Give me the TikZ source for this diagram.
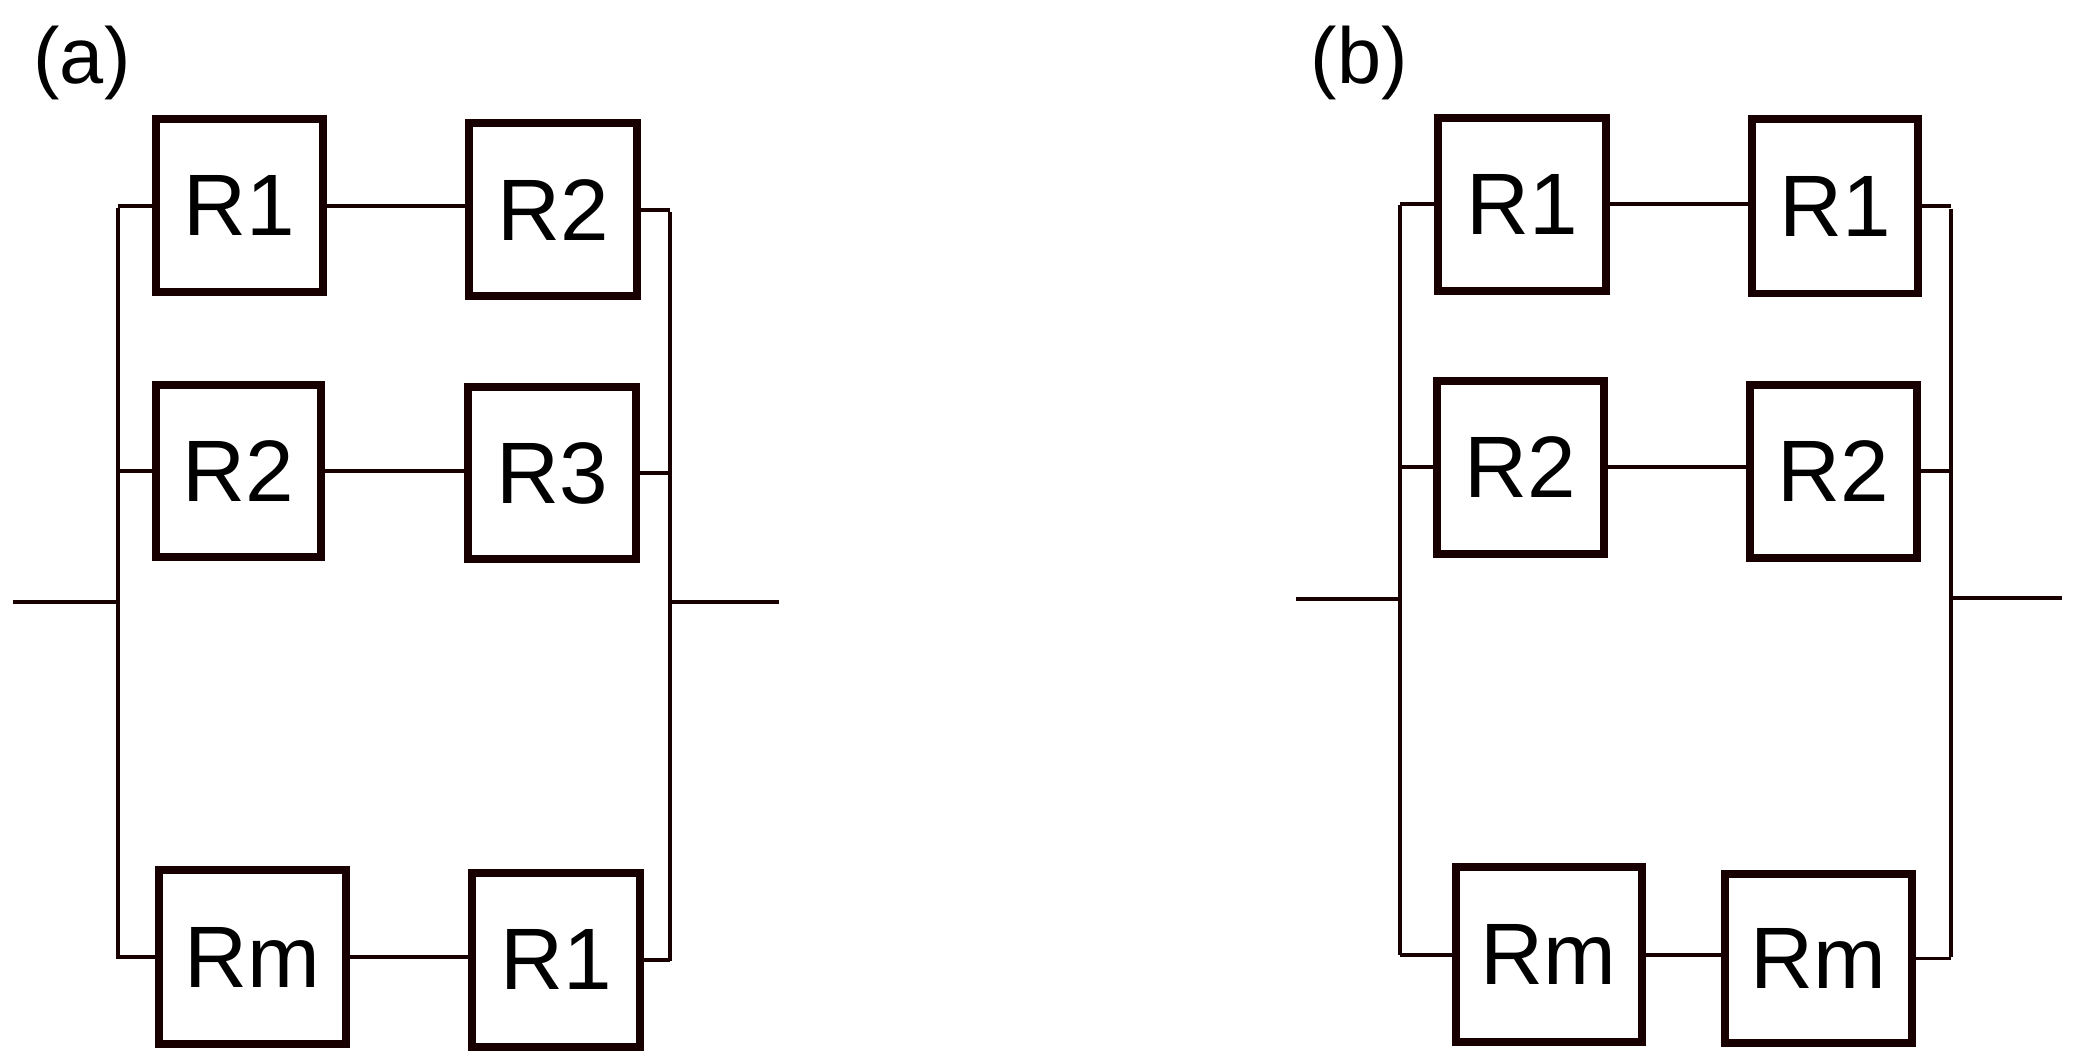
\documentclass[tikz,border=0pt]{standalone}
\usepackage{fontspec}
\setmainfont{Liberation Sans}
\begin{document}
\begin{tikzpicture}[x=1pt,y=-1pt,
  box/.style={draw=black!90!red,line width=6pt,inner sep=0pt,font=\fontsize{66}{66}\selectfont},
  wire/.style={line width=3pt,draw=black!90!red},
  lab/.style={font=\fontsize{60}{60}\selectfont}]
\useasboundingbox (0,0) rectangle (1568,802);
% panel a
\node[lab] (la) at (62,48) {(a)};
\node[box,minimum width=126pt,minimum height=131pt] (a1) at (181,155.5) {R1};
\node[box,minimum width=127pt,minimum height=131pt] (a2) at (418.5,158.5) {R2};
\node[box,minimum width=125pt,minimum height=130pt] (a3) at (180.5,356) {R2};
\node[box,minimum width=127pt,minimum height=130pt] (a4) at (417.5,358) {R3};
\node[box,minimum width=142pt,minimum height=132pt] (a5) at (191,724) {Rm};
\node[box,minimum width=127pt,minimum height=132pt] (a6) at (420.5,726) {R1};
\coordinate (aLT) at (89,157); \coordinate (aLB) at (89,725);
\coordinate (aRT) at (507,160); \coordinate (aRB) at (507,727);
\coordinate (aIn) at (10,455); \coordinate (aInE) at (89,455);
\coordinate (aOut) at (589,455); \coordinate (aOutS) at (507,455);
\draw[wire] (aLT) -- (aLB); \draw[wire] (aRT) -- (aRB);
\draw[wire] (aIn) -- (aInE); \draw[wire] (aOutS) -- (aOut);
\draw[wire] (a1.west) -- (a1.west -| aLT);
\draw[wire] (a3.west) -- (a3.west -| aLT);
\draw[wire] (a5.west) -- (a5.west -| aLT);
\draw[wire] (a2.east) -- (a2.east -| aRT);
\draw[wire] (a4.east) -- (a4.east -| aRT);
\draw[wire] (a6.east) -- (a6.east -| aRT);
\draw[wire] (a1.east) -- (a1.east -| a2.west);
\draw[wire] (a3.east) -- (a3.east -| a4.west);
\draw[wire] (a5.east) -- (a5.east -| a6.west);
% panel b
\node[lab] (lb) at (1028,48) {(b)};
\node[box,minimum width=127pt,minimum height=131pt] (b1) at (1151.5,154.5) {R1};
\node[box,minimum width=126pt,minimum height=132pt] (b2) at (1388,156) {R1};
\node[box,minimum width=126pt,minimum height=131pt] (b3) at (1150,353.5) {R2};
\node[box,minimum width=126pt,minimum height=131pt] (b4) at (1387,356.5) {R2};
\node[box,minimum width=141pt,minimum height=132pt] (b5) at (1171.5,722) {Rm};
\node[box,minimum width=141pt,minimum height=128pt] (b6) at (1375.5,725) {Rm};
\coordinate (bLT) at (1059,155); \coordinate (bLB) at (1059,722);
\coordinate (bRT) at (1476,158); \coordinate (bRB) at (1476,724);
\coordinate (bIn) at (980,453); \coordinate (bInE) at (1059,453);
\coordinate (bOut) at (1560,452); \coordinate (bOutS) at (1476,452);
\draw[wire] (bLT) -- (bLB); \draw[wire] (bRT) -- (bRB);
\draw[wire] (bIn) -- (bInE); \draw[wire] (bOutS) -- (bOut);
\draw[wire] (b1.west) -- (b1.west -| bLT);
\draw[wire] (b3.west) -- (b3.west -| bLT);
\draw[wire] (b5.west) -- (b5.west -| bLT);
\draw[wire] (b2.east) -- (b2.east -| bRT);
\draw[wire] (b4.east) -- (b4.east -| bRT);
\draw[wire] (b6.east) -- (b6.east -| bRT);
\draw[wire] (b1.east) -- (b1.east -| b2.west);
\draw[wire] (b3.east) -- (b3.east -| b4.west);
\draw[wire] (b5.east) -- (b5.east -| b6.west);
\end{tikzpicture}
\end{document}
